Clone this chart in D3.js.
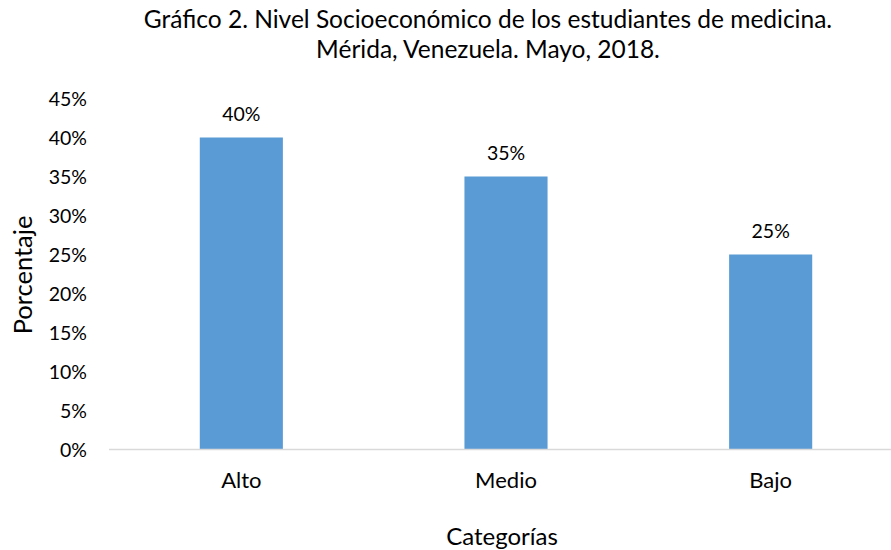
<!DOCTYPE html>
<html><head><meta charset="utf-8">
<script src="https://cdn.jsdelivr.net/npm/d3@7"></script>
<style>body{margin:0;background:#fff}svg{display:block}text{font-family:Lato,"Open Sans",sans-serif;fill:#000}</style>
</head><body>
<svg id="c" width="891" height="550"></svg>
<script>
const categories = ["Alto", "Medio", "Bajo"];
const values = [0.40, 0.35, 0.25];
const yTicks = [0, 0.05, 0.10, 0.15, 0.20, 0.25, 0.30, 0.35, 0.40, 0.45];
const titleLines = ["Gráfico 2. Nivel Socioeconómico de los estudiantes de medicina.", "Mérida, Venezuela. Mayo, 2018."];
const xTitle = "Categorías";
const yTitle = "Porcentaje";

const svg = d3.select("#c");
const x = d3.scaleBand().domain(categories).range([109, 903]).paddingInner(0.686).paddingOuter(0.343);
const y = d3.scaleLinear().domain([0, 0.45]).range([449.5, 98.5]);
const fmt = d3.format(".0%");

svg.append("g").selectAll("text").data(titleLines).join("text")
  .attr("x", 488).attr("y", (d,i)=>28+i*30).attr("text-anchor","middle").style("font-size","24.5px").text(d=>d);

const yAxis = d3.axisLeft(y).tickValues(yTicks).tickFormat(fmt).tickSize(0).tickPadding(0);
const gy = svg.append("g").attr("transform","translate(87,0)").call(yAxis);
gy.select(".domain").remove();
gy.selectAll("text").style("font-size","19.5px").style("font-family","Lato").attr("fill","#000").attr("dy","0.36em");

svg.selectAll("rect.bar").data(values).join("rect").attr("class","bar")
  .attr("x",(d,i)=>x(categories[i])).attr("width",x.bandwidth())
  .attr("y",d=>y(d)).attr("height",d=>y(0)-y(d)).attr("fill","#5B9BD5");

svg.append("line").attr("x1",109).attr("x2",891).attr("y1",y(0)).attr("y2",y(0)).attr("stroke","#D9D9D9").attr("stroke-width",1.5);

svg.selectAll("text.lab").data(values).join("text").attr("class","lab")
  .attr("x",(d,i)=>x(categories[i])+x.bandwidth()/2).attr("y",d=>y(d)-17)
  .attr("text-anchor","middle").style("font-size","19.5px").text(d=>fmt(d));

const xAxis = d3.axisBottom(x).tickSize(0).tickPadding(0);
const gx = svg.append("g").attr("transform",`translate(0,${y(0)})`).call(xAxis);
gx.select(".domain").remove();
gx.selectAll("text").style("font-size","22px").style("font-family","Lato").attr("fill","#000").attr("y",38).attr("dy",0);

svg.append("text").attr("x",502).attr("y",545).attr("text-anchor","middle").style("font-size","24px").text(xTitle);
svg.append("text").attr("transform","translate(32,275) rotate(-90)").attr("text-anchor","middle").style("font-size","25.5px").text(yTitle);
</script>
</body></html>
